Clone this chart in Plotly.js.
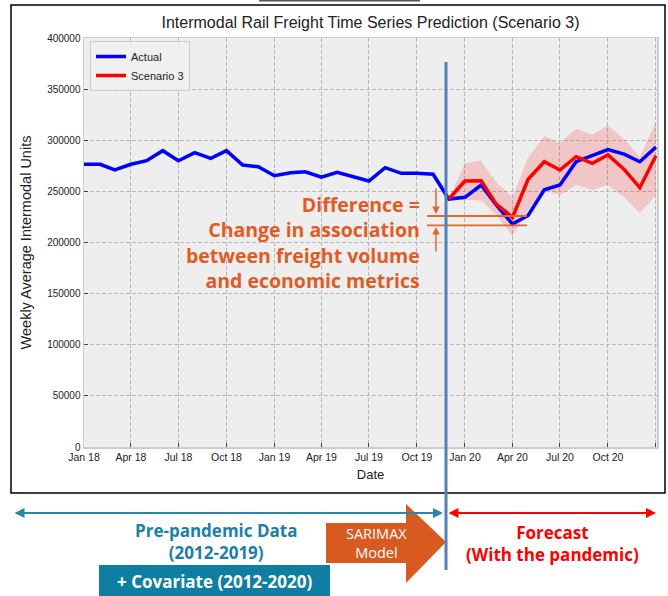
<!DOCTYPE html>
<html>
<head>
<meta charset="utf-8">
<script src="https://cdn.plot.ly/plotly-3.0.1.min.js"></script>
<style>html,body{margin:0;padding:0;background:#fff;}#chart{width:668px;height:596px;}</style>
</head>
<body>
<div id="chart"></div>
<script>
// ---- data ----
const actualDates = [
  '2018-01-01','2018-02-01','2018-03-01','2018-04-01','2018-05-01','2018-06-01',
  '2018-07-01','2018-08-01','2018-09-01','2018-10-01','2018-11-01','2018-12-01',
  '2019-01-01','2019-02-01','2019-03-01','2019-04-01','2019-05-01','2019-06-01',
  '2019-07-01','2019-08-01','2019-09-01','2019-10-01','2019-11-01','2019-12-01',
  '2020-01-01','2020-02-01','2020-03-01','2020-04-01','2020-05-01','2020-06-01',
  '2020-07-01','2020-08-01','2020-09-01','2020-10-01','2020-11-01','2020-12-01',
  '2021-01-01'];
const actualValues = [
  276500,276500,270900,276500,280000,289800,
  280000,287800,282300,289800,275800,274100,
  265300,268300,269200,263800,268700,264400,
  260100,273200,267700,267700,266700,242500,
  244200,256200,236700,218100,226400,251500,
  256200,279000,285000,290800,286400,279000,
  293400];
const forecastDates = [
  '2019-12-01','2020-01-01','2020-02-01','2020-03-01','2020-04-01','2020-05-01',
  '2020-06-01','2020-07-01','2020-08-01','2020-09-01','2020-10-01','2020-11-01',
  '2020-12-01','2021-01-01'];
const scenarioValues = [
  242500,260100,260400,237500,224600,261800,
  279000,270900,283900,277400,285600,271500,
  253600,284800];
const lowerBound = [
  242500,242000,241000,226900,206400,231800,
  251300,246500,256200,251300,256200,244200,
  228500,246500];
const upperBound = [
  242500,277400,280000,259000,244500,282800,
  304200,297000,311200,305500,314400,301400,
  283600,317600];
const xTickFormat = '%b %y';
const xRange = ['2018-01-01','2021-01-03'];
const yRange = [0, 400000];

// ---- pixel helpers for overlay graphics (layout only) ----
const L = 84, R = 657, T = 38, B = 447;
const px = x => (x - L) / (R - L);
const py = y => (B - y) / (B - T);

const ORANGE_TXT = '#e25b24';
const ORANGE_LN = '#e06a2e';
const ORANGE_BLK = '#d95a21';
const TEAL_TXT = '#1b80a8';
const TEAL_BOX = '#0e7ea3';
const TEAL_ARW = '#2a85a8';
const RED = '#ff0000';
const ANN_FONT = '"Open Sans", Roboto, sans-serif';
const AX_FONT = '"Liberation Sans", Arial, sans-serif';

const traces = [
  {x: forecastDates, y: lowerBound, type: 'scatter', mode: 'lines',
   line: {width: 0, color: 'rgba(0,0,0,0)'}, showlegend: false, hoverinfo: 'skip'},
  {x: forecastDates, y: upperBound, type: 'scatter', mode: 'lines',
   line: {width: 0, color: 'rgba(0,0,0,0)'}, fill: 'tonexty',
   fillcolor: 'rgba(255,0,0,0.17)', showlegend: false, hoverinfo: 'skip'},
  {x: actualDates, y: actualValues, type: 'scatter', mode: 'lines', name: 'Actual',
   line: {color: '#0000ff', width: 3.5}},
  {x: forecastDates, y: scenarioValues, type: 'scatter', mode: 'lines', name: 'Scenario 3',
   line: {color: '#ff0000', width: 3.5}}
];

function pathFrom(pts) {
  return 'M ' + pts.map(p => px(p[0]) + ',' + py(p[1])).join(' L ') + ' Z';
}

const shapes = [
  {type: 'rect', xref: 'paper', yref: 'paper', x0: px(11), x1: px(665), y0: py(493), y1: py(5),
   line: {color: '#000', width: 1.5}, fillcolor: 'rgba(0,0,0,0)'},
  {type: 'line', xref: 'paper', yref: 'paper', x0: px(259), x1: px(420), y0: py(0.8), y1: py(0.8),
   line: {color: '#555', width: 1.6}},
  {type: 'line', xref: 'paper', yref: 'paper', x0: px(427), x1: px(527), y0: py(216), y1: py(216),
   line: {color: ORANGE_LN, width: 1.8}},
  {type: 'line', xref: 'paper', yref: 'paper', x0: px(427), x1: px(527), y0: py(225.3), y1: py(225.3),
   line: {color: ORANGE_LN, width: 1.8}},
  {type: 'path', xref: 'paper', yref: 'paper',
   path: pathFrom([[326,523],[406,523],[406,504],[446,542],[406,583],[406,563],[326,563]]),
   fillcolor: ORANGE_BLK, line: {width: 0}},
  {type: 'rect', xref: 'paper', yref: 'paper', x0: px(99), x1: px(330), y0: py(596), y1: py(565),
   fillcolor: TEAL_BOX, line: {width: 0}},
  {type: 'line', xref: 'paper', yref: 'paper', x0: px(446), x1: px(446), y0: py(62), y1: py(570),
   line: {color: '#4f81bd', width: 3}}
];

function txt(x, y, text, size, color, anchor, weight) {
  return {xref: 'paper', yref: 'paper', x: px(x), y: py(y), text: text, showarrow: false,
          xanchor: anchor || 'center', yanchor: 'middle', borderpad: 0,
          align: anchor === 'right' ? 'right' : 'center',
          font: {family: ANN_FONT, size: size, color: color, weight: weight || 'bold'}};
}
function arrow(x, y, ax, ay, color, width, both) {
  return {xref: 'paper', yref: 'paper', x: px(x), y: py(y), ax: ax, ay: ay, text: '',
          showarrow: true, arrowhead: 2, arrowsize: 1, arrowwidth: width, arrowcolor: color,
          arrowside: both ? 'end+start' : 'end', standoff: 0, startstandoff: 0};
}

const annotations = [
  txt(421, 242, 'Difference =<br>Change in association<br>between freight volume<br>and economic metrics',
      19.5, ORANGE_TXT, 'right'),
  arrow(436, 214, 0, -27, ORANGE_LN, 1.5, false),
  arrow(436, 227, 0, 26, ORANGE_LN, 1.5, false),
  arrow(443, 513, -430, 0, TEAL_ARW, 2, true),
  arrow(656, 513, -209, 0, RED, 2, true),
  txt(216, 541.5, 'Pre-pandemic Data<br>(2012-2019)', 17, TEAL_TXT),
  txt(214, 581, '+ Covariate (2012-2020)', 17, '#ffffff'),
  txt(376, 542.5, 'SARIMAX<br>Model', 14.5, '#ffffff', 'center', 'normal'),
  txt(552.5, 543, 'Forecast<br>(With the pandemic)', 17, RED)
];

const layout = {
  width: 668, height: 596,
  margin: {l: L, r: 668 - R, t: T, b: 596 - B, pad: 0},
  paper_bgcolor: '#ffffff',
  plot_bgcolor: '#eeeeee',
  font: {family: AX_FONT, size: 10, color: '#222'},
  title: {text: 'Intermodal Rail Freight Time Series Prediction (Scenario 3)',
          x: px(370.5), xref: 'paper', y: 1 - 22 / 596, yref: 'container',
          xanchor: 'center', yanchor: 'middle',
          font: {family: AX_FONT, size: 16, color: '#222'}},
  xaxis: {type: 'date', range: xRange, tickformat: xTickFormat, dtick: 'M3', tick0: '2018-01-01',
          ticks: 'inside', ticklen: 4, tickcolor: '#444', tickwidth: 1,
          tickfont: {size: 10.5},
          showgrid: true, gridcolor: '#b8b8b8', griddash: '4px,2px', gridwidth: 1,
          showline: true, linecolor: '#cccccc', linewidth: 1.5, mirror: true, zeroline: false,
          title: {text: 'Date', font: {size: 13}, standoff: 8}, automargin: false},
  yaxis: {range: yRange, dtick: 50000, tickformat: 'd',
          ticks: 'inside', ticklen: 4, tickcolor: '#444', tickwidth: 1,
          tickfont: {size: 10},
          showgrid: true, gridcolor: '#b8b8b8', griddash: '4px,2px', gridwidth: 1,
          showline: true, linecolor: '#cccccc', linewidth: 1.5, mirror: true, zeroline: false,
          title: {text: 'Weekly Average Intermodal Units', font: {size: 14.5}, standoff: 12},
          automargin: false},
  legend: {x: px(90), y: py(41), xanchor: 'left', yanchor: 'top', traceorder: 'normal',
           bgcolor: 'rgba(240,240,240,0.85)', bordercolor: '#cccccc', borderwidth: 1,
           font: {size: 11, color: '#222'}, itemwidth: 30, tracegroupgap: 0},
  showlegend: true,
  shapes: shapes,
  annotations: annotations
};

Plotly.newPlot('chart', traces, layout, {displayModeBar: false, staticPlot: true});
</script>
</body>
</html>
